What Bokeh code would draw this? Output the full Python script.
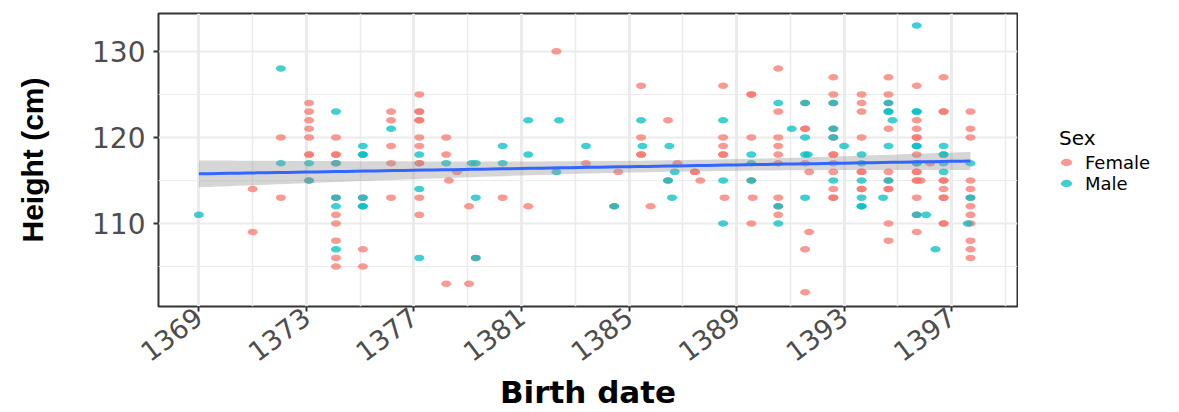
import math
import numpy as np
from bokeh.plotting import figure
from bokeh.layouts import row
from bokeh.models import Range1d, FixedTicker, Legend, LegendItem
from bokeh.embed import file_html
from bokeh.resources import INLINE

# ---- data ----
female_x = [1371.0, 1371.0,
            1372.05, 1372.05,
            1373.1, 1373.1, 1373.1, 1373.1, 1373.1, 1373.1, 1373.1, 1373.1,
            1374.1, 1374.1, 1374.1, 1374.1, 1374.1, 1374.1, 1374.1, 1374.1, 1374.1, 1374.1,
            1375.1, 1375.1, 1375.1,
            1376.15, 1376.15, 1376.15, 1376.15, 1376.15,
            1377.2, 1377.2, 1377.2, 1377.2, 1377.2, 1377.2, 1377.2, 1377.2, 1377.2, 1377.2, 1377.2,
            1378.2, 1378.2, 1378.2, 1378.3, 1378.6,
            1379.05, 1379.05, 1379.3,
            1380.3,
            1381.25,
            1382.3,
            1383.4,
            1384.45, 1384.6,
            1385.45, 1385.45, 1385.45, 1385.45, 1385.8,
            1386.45, 1386.45, 1386.8,
            1387.45, 1387.45, 1387.65,
            1388.5, 1388.5, 1388.5, 1388.5, 1388.5, 1388.55,
            1389.55, 1389.55, 1389.55, 1389.55, 1389.55, 1389.6,
            1390.55, 1390.55, 1390.55, 1390.55, 1390.55, 1390.55, 1390.55, 1390.55, 1390.55,
            1391.55, 1391.55, 1391.55, 1391.55, 1391.55, 1391.55, 1391.7, 1391.7,
            1392.6, 1392.6, 1392.6, 1392.6, 1392.6, 1392.6, 1392.6, 1392.6, 1392.6, 1392.6, 1392.6, 1392.6,
            1393.65, 1393.65, 1393.65, 1393.65, 1393.65, 1393.65, 1393.65, 1393.65,
            1394.65, 1394.65, 1394.65, 1394.65, 1394.65, 1394.65, 1394.65, 1394.65, 1394.65, 1394.65,
            1395.7, 1395.7, 1395.7, 1395.7, 1395.7, 1395.7, 1395.7, 1395.7, 1395.7, 1395.7, 1395.7,
            1395.85, 1395.7, 1395.7, 1395.7,
            1396.2,
            1396.7, 1396.7, 1396.7, 1396.7, 1396.7, 1396.7, 1396.7, 1396.7, 1396.7, 1396.7,
            1397.7, 1397.7, 1397.7, 1397.7, 1397.7, 1397.7, 1397.7, 1397.7, 1397.7, 1397.7, 1397.7, 1397.7]
female_h = [114, 109,
            120, 113,
            124, 123, 122, 121, 120, 118, 118, 115,
            120, 118, 118, 117, 113, 111, 110, 108, 106, 105,
            113, 107, 105,
            123, 122, 119, 117, 113,
            125, 123, 123, 122, 122, 120, 119, 117, 117, 113, 111,
            120, 118, 103, 115, 116,
            112, 103, 106,
            113,
            112,
            130,
            117,
            112, 116,
            126, 120, 118, 118, 112,
            122, 115, 117,
            116, 116, 115,
            126, 120, 119, 118, 118, 113,
            125, 125, 120, 115, 110, 113,
            128, 123, 120, 119, 118, 117, 113, 112, 111,
            124, 121, 121, 117, 107, 102, 116, 109,
            127, 125, 124, 121, 120, 118, 118, 117, 116, 114, 113, 113,
            125, 124, 123, 120, 116, 116, 114, 114,
            127, 125, 124, 121, 116, 115, 114, 114, 110, 108,
            126, 122, 121, 120, 120, 118, 117, 116, 116, 115, 115,
            115, 113, 111, 109,
            117,
            127, 123, 123, 115, 115, 114, 113, 113, 110, 110,
            123, 121, 120, 115, 114, 113, 112, 111, 110, 108, 107, 106]

male_x = [1369.0,
          1372.05, 1372.05,
          1373.1, 1373.1,
          1374.1, 1374.1, 1374.1, 1374.1, 1374.1,
          1375.1, 1375.1, 1375.1, 1375.1, 1375.1, 1375.1,
          1376.15,
          1377.2, 1377.2, 1377.2,
          1378.2,
          1379.15, 1379.3, 1379.3, 1379.3,
          1380.3, 1380.3,
          1381.25, 1381.25,
          1382.3, 1382.4,
          1383.4,
          1384.45,
          1385.45, 1385.5,
          1386.45, 1386.5, 1386.6, 1386.7,
          1388.5, 1388.5, 1388.5,
          1389.55, 1389.55, 1389.55,
          1390.55, 1390.55, 1390.55,
          1391.05,
          1391.55, 1391.55, 1391.55, 1391.65, 1391.55,
          1392.6, 1392.6, 1392.6, 1392.6,
          1393.0,
          1393.65, 1393.65, 1393.65, 1393.65, 1393.65, 1393.65,
          1394.45,
          1394.65, 1394.65, 1394.65, 1394.65, 1394.65,
          1394.8,
          1395.7, 1395.7, 1395.7, 1395.7, 1395.7, 1395.7, 1395.7,
          1396.05,
          1396.4,
          1396.7, 1396.7, 1396.7, 1396.7, 1396.7,
          1397.7, 1397.7, 1397.6]
male_h = [111,
          128, 117,
          117, 115,
          123, 117, 113, 112, 107,
          119, 118, 118, 113, 112, 112,
          121,
          118, 114, 106,
          117,
          117, 117, 113, 106,
          119, 117,
          122, 118,
          116, 122,
          119,
          112,
          122, 119,
          115, 119, 113, 116,
          122, 115, 110,
          118, 117, 115,
          124, 112, 110,
          121,
          124, 120, 118, 118, 113,
          124, 121, 120, 115,
          119,
          118, 117, 115, 113, 112, 112,
          113,
          124, 123, 123, 119, 115,
          122,
          133, 123, 123, 119, 119, 117, 111,
          111,
          107,
          119, 118, 118, 117, 116,
          117, 113, 110]

sex_labels = ["Female", "Male"]
sex_colors = ["#F8766D", "#00BFC4"]
x_ticks = [1369, 1373, 1377, 1381, 1385, 1389, 1393, 1397]
y_ticks = [110, 120, 130]

# ---- linear fit (geom_smooth method = "lm") from all points ----
all_x = np.array(female_x + male_x, dtype=float)
all_y = np.array(female_h + male_h, dtype=float)
n = len(all_x)
b, a = np.polyfit(all_x, all_y, 1)
resid = all_y - (a + b * all_x)
s = math.sqrt((resid ** 2).sum() / (n - 2))
xbar = all_x.mean()
sxx = ((all_x - xbar) ** 2).sum()
fit_x = np.linspace(all_x.min(), all_x.max(), 80)
fit_y = a + b * fit_x
se = s * np.sqrt(1.0 / n + (fit_x - xbar) ** 2 / sxx)
t = 1.97
lo = fit_y - t * se
hi = fit_y + t * se

p = figure(width=1018, height=412, output_backend="svg", toolbar_location=None,
           x_range=Range1d(1367.5, 1399.45), y_range=Range1d(100.35, 134.4),
           min_border_left=158, min_border_right=1, min_border_top=13,
           min_border_bottom=106, background_fill_color="white",
           border_fill_color="white")

p.outline_line_color = "#333333"
p.outline_line_width = 2

# grids
p.xaxis.ticker = FixedTicker(ticks=x_ticks, minor_ticks=[t_ + 2 for t_ in [1365] + x_ticks])
p.yaxis.ticker = FixedTicker(ticks=y_ticks, minor_ticks=[105, 115, 125, 135])
p.xgrid.grid_line_color = "#EBEBEB"
p.xgrid.grid_line_width = 3
p.xgrid.minor_grid_line_color = "#EBEBEB"
p.xgrid.minor_grid_line_width = 1.5
p.ygrid.grid_line_color = "#EBEBEB"
p.ygrid.grid_line_width = 2
p.ygrid.minor_grid_line_color = "#EBEBEB"
p.ygrid.minor_grid_line_width = 1

for ax in (p.xaxis, p.yaxis):
    ax.axis_line_color = None
    ax.major_tick_line_color = "#333333"
    ax.major_tick_line_width = 2
    ax.major_tick_out = 5
    ax.major_tick_in = 0
    ax.minor_tick_line_color = None
    ax.major_label_text_font = "DejaVu Sans"
    ax.major_label_text_color = "#4D4D4D"

p.yaxis.major_label_text_font_size = "28px"
p.xaxis.major_label_text_font_size = "27px"
p.xaxis.major_label_orientation = math.radians(37)
p.xaxis.major_label_standoff = 2
p.yaxis.major_label_standoff = 8

p.xaxis.axis_label = "Birth date"
p.xaxis.axis_label_text_font = "DejaVu Sans"
p.xaxis.axis_label_text_font_style = "bold"
p.xaxis.axis_label_text_font_size = "31px"
p.xaxis.axis_label_text_color = "black"
p.xaxis.axis_label_standoff = 0

p.yaxis.axis_label = "Height (cm)"
p.yaxis.axis_label_text_font = "Liberation Sans"
p.yaxis.axis_label_text_font_style = "bold"
p.yaxis.axis_label_text_font_size = "30px"
p.yaxis.axis_label_text_color = "black"
p.yaxis.axis_label_standoff = 40

# points
rf = p.ellipse(x=female_x, y=female_h, width=10, height=6.5, width_units="screen",
               height_units="screen", fill_color=sex_colors[0], fill_alpha=0.75,
               line_color=None)
rm = p.ellipse(x=male_x, y=male_h, width=10, height=6.5, width_units="screen",
               height_units="screen", fill_color=sex_colors[1], fill_alpha=0.75,
               line_color=None)

# regression band and line
p.varea(x=fit_x, y1=lo, y2=hi, fill_color="#999999", fill_alpha=0.4)
p.line(x=fit_x, y=fit_y, line_color="#3366FF", line_width=3)

# ---- legend panel (separate narrow figure to the right) ----
q = figure(width=161, height=412, output_backend="svg", toolbar_location=None,
           x_range=Range1d(0, 1), y_range=Range1d(0, 1), min_border=0,
           background_fill_color="white", border_fill_color="white")
q.axis.visible = False
q.grid.visible = False
q.outline_line_color = None
# legend key glyphs (kept off the visible range; only their style is shown)
kf = q.ellipse(x=[-5], y=[-5], width=10, height=6.5, width_units="screen",
               height_units="screen", fill_color=sex_colors[0], fill_alpha=0.75,
               line_color=None)
km = q.ellipse(x=[-5], y=[-5], width=10, height=6.5, width_units="screen",
               height_units="screen", fill_color=sex_colors[1], fill_alpha=0.75,
               line_color=None)

legend = Legend(items=[LegendItem(label=sex_labels[0], renderers=[kf]),
                       LegendItem(label=sex_labels[1], renderers=[km])],
                title="Sex", location="center_left")
legend.title_text_font = "DejaVu Sans"
legend.title_text_font_size = "20px"
legend.title_text_font_style = "normal"
legend.title_text_color = "black"
legend.title_standoff = 2
legend.label_text_font = "DejaVu Sans"
legend.label_text_font_size = "18px"
legend.label_text_color = "black"
legend.label_height = 14
legend.glyph_height = 14
legend.glyph_width = 14
legend.spacing = 0
legend.label_standoff = 12
legend.padding = 4
legend.margin = 41
legend.border_line_color = None
legend.background_fill_alpha = 0
q.add_layout(legend, "center")

layout = row(p, q, spacing=0)
open("out.html", "w").write(file_html(layout, INLINE))
